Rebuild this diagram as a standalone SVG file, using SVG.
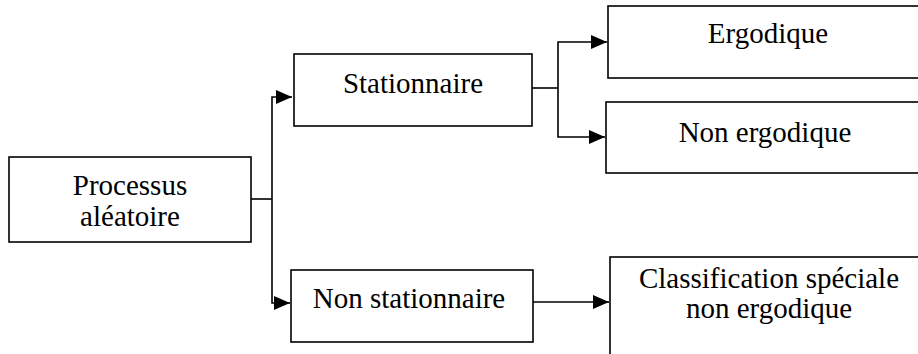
<svg xmlns="http://www.w3.org/2000/svg" width="918" height="354" viewBox="0 0 918 354">
  <style>
    .box { fill: #ffffff; stroke: #000000; stroke-width: 1.6; }
    .lbl { font-family: "Liberation Serif", "Times New Roman", serif; font-size: 29px; fill: #000000; text-anchor: middle; }
    .wire { fill: none; stroke: #000000; stroke-width: 1.6; }
  </style>
  <defs>
    <marker id="arrow" markerUnits="userSpaceOnUse" markerWidth="16" markerHeight="14" refX="16" refY="7" orient="auto">
      <path d="M0,0 L16,7 L0,14 Z" fill="#000000"/>
    </marker>
  </defs>
  <rect width="918" height="354" fill="#ffffff"/>

  <g id="processus">
    <rect class="box" x="9" y="157" width="242" height="85"/>
    <text class="lbl" x="130" y="195">Processus</text>
    <text class="lbl" x="130" y="226">aléatoire</text>
  </g>

  <g id="stationnaire">
    <rect class="box" x="294" y="54" width="238" height="72"/>
    <text class="lbl" x="413" y="93">Stationnaire</text>
  </g>

  <g id="non-stationnaire">
    <rect class="box" x="291" y="270" width="242" height="72"/>
    <text class="lbl" x="409" y="308">Non stationnaire</text>
  </g>

  <g id="ergodique">
    <rect class="box" x="608" y="6" width="320" height="72"/>
    <text class="lbl" x="768" y="43">Ergodique</text>
  </g>

  <g id="non-ergodique">
    <rect class="box" x="606" y="102" width="322" height="71"/>
    <text class="lbl" x="765" y="142">Non ergodique</text>
  </g>

  <g id="classification">
    <rect class="box" x="610" y="257" width="318" height="110"/>
    <text class="lbl" x="769" y="288">Classification spéciale</text>
    <text class="lbl" x="769" y="318">non ergodique</text>
  </g>

  <g id="connectors">
    <path class="wire" d="M251,199 H272"/>
    <path class="wire" d="M272,199 V97 H292" marker-end="url(#arrow)"/>
    <path class="wire" d="M272,199 V303 H290" marker-end="url(#arrow)"/>
    <path class="wire" d="M532,88 H558"/>
    <path class="wire" d="M558,88 V42 H607" marker-end="url(#arrow)"/>
    <path class="wire" d="M558,88 V137 H605" marker-end="url(#arrow)"/>
    <path class="wire" d="M533,302 H609" marker-end="url(#arrow)"/>
  </g>
</svg>
